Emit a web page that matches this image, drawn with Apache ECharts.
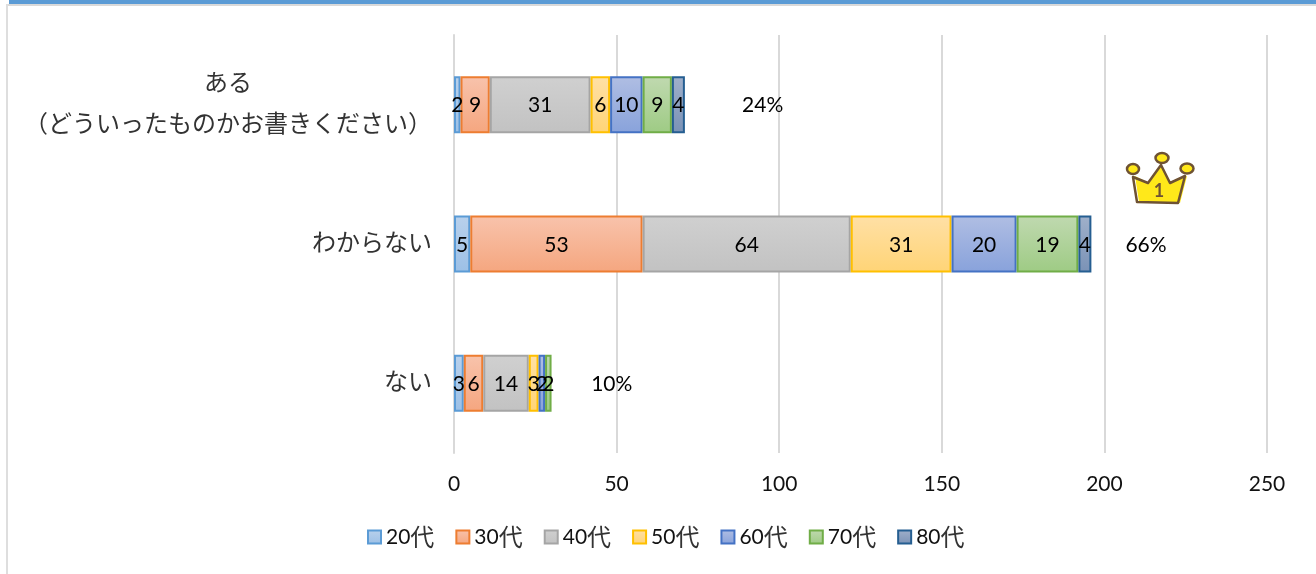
<!DOCTYPE html>
<html>
<head>
<meta charset="utf-8">
<style>
  html, body { margin: 0; padding: 0; background: #fff; }
  #chart { width: 1316px; height: 574px; }
</style>
</head>
<body>
<div id="chart"></div>
<script src="https://cdn.jsdelivr.net/npm/echarts@6/dist/echarts.min.js"></script>
<script>
const categories = ['ある\n（どういったものかお書きください）', 'わからない', 'ない']
const ageNames = ['20代', '30代', '40代', '50代', '60代', '70代', '80代']
const age20 = [2, 5, 3]
const age30 = [9, 53, 6]
const age40 = [31, 64, 14]
const age50 = [6, 31, 3]
const age60 = [10, 20, 2]
const age70 = [9, 19, 2]
const age80 = [4, 4, null]
const percentLabels = ['24%', '66%', '10%']
// 割合ラベルの横位置（軸の値）
const percentPos = [94.9, 212.8, 48.5]
const xTicks = [0, 50, 100, 150, 200, 250]

const ageValues = [age20, age30, age40, age50, age60, age70, age80]
const borderColors = ['#5b9bd5', '#ed7d31', '#a5a5a5', '#ffc000', '#4472c4', '#70ad47', '#255e91']
const fillTop = ['#b9d1ec', '#f8c3ac', '#d0d0d0', '#ffe0a6', '#b0bee3', '#c0d9b0', '#a0b0ca']
const fillBottom = ['#9cc0e6', '#f5a67f', '#c2c2c2', '#ffd476', '#88a2db', '#9ecb84', '#7a92b6']
const FONT = 'Lato, "Noto Sans CJK JP", sans-serif'
const JP_FONT = '"Noto Sans CJK JP", sans-serif'

const chart = echarts.init(document.getElementById('chart'), null, { renderer: 'canvas' })

const barSeries = ageNames.map((name, i) => ({
  name,
  type: 'bar',
  stack: 'total',
  barWidth: 57,
  data: ageValues[i],
  itemStyle: {
    color: new echarts.graphic.LinearGradient(0, 0, 0, 1, [
      { offset: 0, color: fillTop[i] },
      { offset: 1, color: fillBottom[i] },
    ]),
    borderColor: borderColors[i],
    borderWidth: 2,
  },
  label: {
    show: true,
    position: 'inside',
    offset: [0, 1],
    color: '#000',
    fontFamily: FONT,
    fontSize: 21,
  },
}))

chart.setOption({
  animation: false,
  backgroundColor: '#fff',
  grid: { left: 454, right: 49, top: 35, bottom: 121 },
  legend: {
    data: ageNames,
    left: 362,
    top: 520,
    icon: 'rect',
    itemWidth: 13,
    itemHeight: 13,
    itemGap: 21,
    formatter: (name) => '{n|' + name.slice(0, 2) + '}{k|' + name.slice(2) + '}',
    textStyle: {
      rich: {
        n: { color: '#111', fontFamily: FONT, fontSize: 21 },
        k: { color: '#333', fontFamily: JP_FONT, fontSize: 24 },
      },
    },
  },
  xAxis: {
    type: 'value',
    min: xTicks[0],
    max: xTicks[xTicks.length - 1],
    interval: 50,
    axisLine: { show: false },
    axisTick: { show: false },
    axisLabel: { color: '#111', fontFamily: FONT, fontSize: 21, margin: 21 },
    splitLine: { lineStyle: { color: '#d9d9d9', width: 2 } },
  },
  yAxis: {
    type: 'category',
    inverse: true,
    data: categories,
    axisLine: { show: true, lineStyle: { color: '#d9d9d9', width: 2 } },
    axisTick: { show: false },
    axisLabel: {
      margin: 22,
      padding: [0, 0, 4, 0],
      formatter: (v) => {
        const lines = v.split('\n')
        if (lines.length === 1) return v
        return lines.map((l) => '{c|' + l + '}').join('\n')
      },
      color: '#333',
      fontFamily: JP_FONT,
      fontSize: 24,
      rich: {
        c: {
          width: 408,
          align: 'center',
          lineHeight: 41,
          color: '#333',
          fontFamily: JP_FONT,
          fontSize: 24,
        },
      },
    },
  },
  series: [
    ...barSeries,
    {
      name: '割合',
      type: 'scatter',
      symbolSize: 1,
      itemStyle: { color: 'transparent', opacity: 1 },
      data: percentPos.map((x, i) => [x, i]),
      label: {
        show: true,
        position: 'inside',
        offset: [0, 1],
        color: '#000',
        fontFamily: FONT,
        fontSize: 21,
        formatter: (p) => percentLabels[p.dataIndex],
      },
    },
  ],
  graphic: [
    // 上の帯と左の枠線
    { type: 'rect', shape: { x: 9, y: 0, width: 1307, height: 4 }, style: { fill: '#5b9bd5' }, silent: true },
    { type: 'rect', shape: { x: 6, y: 4, width: 1310, height: 2 }, style: { fill: '#d9d9d9' }, silent: true },
    { type: 'rect', shape: { x: 6, y: 4, width: 2, height: 570 }, style: { fill: '#dedede' }, silent: true },
    // 王冠
    { type: 'polygon', shape: { points: [[1135, 176], [1149, 183], [1161, 165], [1171, 183], [1187, 176], [1180, 203], [1139, 202]] }, style: { fill: '#ffe81a' }, silent: true },
    { type: 'polygon', shape: { points: [[1133, 177], [1148, 183], [1161, 165], [1170, 183], [1185, 176], [1178, 203], [1137, 202]] }, style: { fill: 'none', stroke: '#6e5233', lineWidth: 2.5, lineJoin: 'round' }, silent: true },
    { type: 'ellipse', shape: { cx: 1162, cy: 158, rx: 6.5, ry: 5 }, style: { fill: '#ffe81a', stroke: '#6e5233', lineWidth: 2.5 }, silent: true },
    { type: 'ellipse', shape: { cx: 1133, cy: 169, rx: 6, ry: 5 }, style: { fill: '#ffe81a', stroke: '#6e5233', lineWidth: 2.5 }, silent: true },
    { type: 'ellipse', shape: { cx: 1187, cy: 168.5, rx: 6.5, ry: 5 }, style: { fill: '#ffe81a', stroke: '#6e5233', lineWidth: 2.5 }, silent: true },
    { type: 'text', style: { x: 1159, y: 191, text: '1', fill: '#6e5233', font: 'bold 18px Lato', textAlign: 'center', textVerticalAlign: 'middle' }, silent: true },
  ],
})
</script>
</body>
</html>
